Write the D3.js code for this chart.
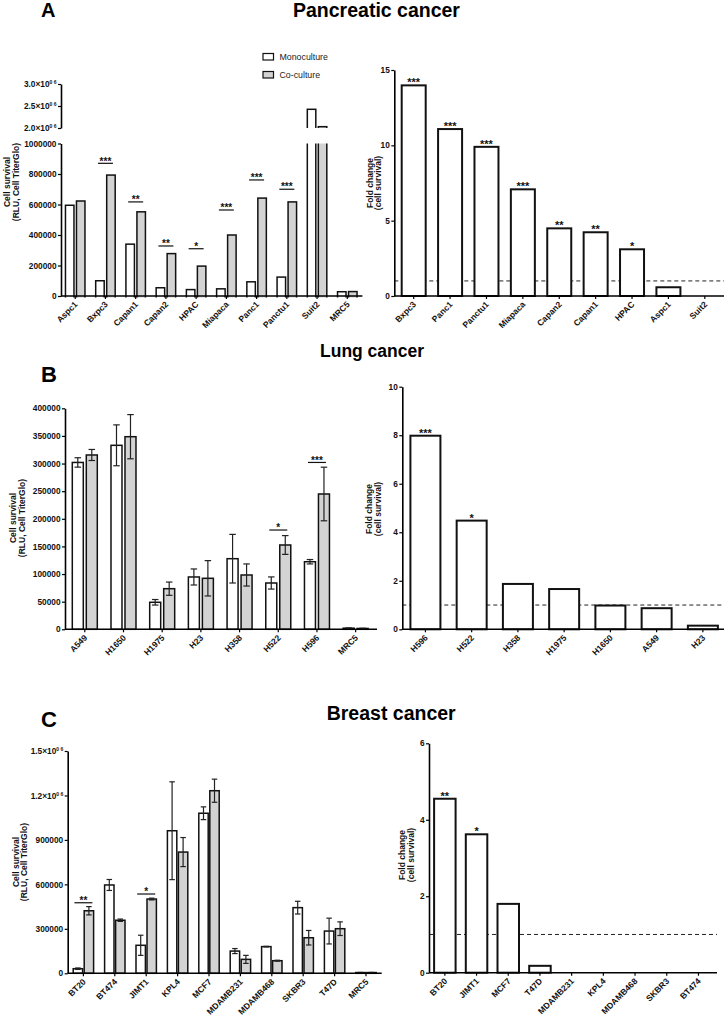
<!DOCTYPE html>
<html><head><meta charset="utf-8">
<script src="https://cdnjs.cloudflare.com/ajax/libs/d3/7.8.5/d3.min.js"></script>
<style>body{margin:0;background:#fff}svg{display:block}text{font-family:"Liberation Sans",Arial,sans-serif}</style>
</head><body><svg id="c" width="724" height="1020"></svg>
<script>
// ---------------- DATA ----------------
// Panel A: pancreatic cancer
const pancCats = ["Aspc1","Bxpc3","Capan1","Capan2","HPAC","Miapaca","Panc1","Panctu1","Suit2","MRC5"];
const pancMono = [595000,100000,340000,54000,42000,47000,93000,124000,2425000,28000];
const pancCo   = [623000,793000,552000,278000,196000,400000,642000,617000,2030000,29000];
const pancSigCats   = ["Bxpc3","Capan1","Capan2","HPAC","Miapaca","Panc1","Panctu1"];
const pancSigVals   = [870000,617000,328000,310000,564000,761000,700000];
const pancSigLabels = ["***","**","**","*","***","***","***"];
const pancTicksLow  = [0,200000,400000,600000,800000,1000000];
const pancTicksHigh = [2000000,2500000,3000000];

const pancFoldCats = ["Bxpc3","Panc1","Panctu1","Miapaca","Capan2","Capan1","HPAC","Aspc1","Suit2"];
const pancFold     = [13.98,11.08,9.9,7.08,4.49,4.23,3.1,0.58,0];
const pancFoldSig  = ["***","***","***","***","**","**","*","",""];
const pancFoldTicks = [0,5,10,15];

// Panel B: lung cancer
const lungCats    = ["A549","H1650","H1975","H23","H358","H522","H596","MRC5"];
const lungMono    = [302000,333000,48900,94700,127800,83800,122300,2000];
const lungMonoErr = [8500,37000,5000,14500,44000,11000,4000,400];
const lungCo      = [315500,348600,73500,92300,98300,152600,244900,1500];
const lungCoErr   = [10000,40000,12000,32000,20000,17000,48500,400];
const lungSigCats   = ["H522","H596"];
const lungSigVals   = [179700,302000];
const lungSigLabels = ["*","***"];
const lungTicks = [0,50000,100000,150000,200000,250000,300000,350000,400000];

const lungFoldCats = ["H596","H522","H358","H1975","H1650","A549","H23"];
const lungFold     = [7.98,4.48,1.87,1.66,0.98,0.87,0.15];
const lungFoldSig  = ["***","*","","","","",""];
const lungFoldTicks = [0,2,4,6,8,10];

// Panel C: breast cancer
const breastCats    = ["BT20","BT474","JIMT1","KPL4","MCF7","MDAMB231","MDAMB468","SKBR3","T47D","MRC5"];
const breastMono    = [31000,596000,189000,962000,1080000,150000,180000,443000,285000,5000];
const breastMonoErr = [5000,37000,68000,330000,43000,17000,2000,43000,87000,1000];
const breastCo      = [422000,358000,501000,818000,1232000,94000,85000,240000,301000,5000];
const breastCoErr   = [28000,8000,6000,98000,78000,27000,3000,49000,46000,1000];
const breastSigCats   = ["BT20","JIMT1"];
const breastSigVals   = [476000,535000];
const breastSigLabels = ["**","*"];
const breastTicks = [0,300000,600000,900000,1200000,1500000];

const breastFoldCats = ["BT20","JIMT1","MCF7","T47D","MDAMB231","KPL4","MDAMB468","SKBR3","BT474"];
const breastFold     = [4.55,3.62,1.80,0.18,0,0,0,0,0];
const breastFoldSig  = ["**","*","","","","","","",""];
const breastFoldTicks = [0,2,4,6];

const legendLabels = ["Monoculture","Co-culture"];

// ---------------- DRAWING ----------------
const svg = d3.select("#c");
const CO_FILL = "#d3d3d3";
const MONO_FILL = "#ffffff";

function styleAxis(g, fs) {
  g.select(".domain").attr("stroke","#000").attr("stroke-width",1.6);
  g.selectAll(".tick line").attr("stroke","#000").attr("stroke-width",1.2);
  g.selectAll(".tick text").attr("font-size",fs).attr("font-weight","bold").attr("fill","#111")
    .attr("font-family",'"Liberation Sans", Arial, sans-serif');
}
function sci(textSel, d) {
  const m = (d/1e6).toFixed(1);
  textSel.text(null);
  textSel.append("tspan").text(m + "\u00d710");
  textSel.append("tspan").attr("font-size",5).attr("dy",-3).text("0 6");
}
function yAxis(x0, scale, ticks, sciFrom) {
  const g = svg.append("g").attr("transform",`translate(${x0},0)`);
  g.call(d3.axisLeft(scale).tickValues(ticks).tickSize(3).tickSizeOuter(0).tickPadding(1.5)
     .tickFormat(d => String(d)));
  styleAxis(g, 8.3);
  if (sciFrom !== undefined) {
    g.selectAll(".tick text").each(function(d){ if (d >= sciFrom) sci(d3.select(this), d); });
  }
  return g;
}
function xAxis(y0, band, x0, x1, fs) {
  const g = svg.append("g").attr("transform",`translate(0,${y0})`);
  g.call(d3.axisBottom(band).tickSize(3).tickSizeOuter(0));
  g.select(".domain").attr("d", `M${x0},0H${x1}`);
  styleAxis(g, fs);
  g.selectAll(".tick text").attr("x",0).attr("y",0).attr("dy",null)
    .attr("text-anchor","end").attr("transform","translate(3,9) rotate(-45)");
  return g;
}
function axisTitle(xBase1, xBase2, cy, l1, l2) {
  [[xBase1,l1],[xBase2,l2]].forEach(([xb,t]) => {
    svg.append("text").attr("transform",`translate(${xb},${cy}) rotate(-90)`)
      .attr("text-anchor","middle").attr("font-size",8.5).attr("font-weight","bold").attr("fill","#111").text(t);
  });
}
function groupedBarsClamp(g, cats, vals, x, y, off, w, fill) {
  g.append("g").selectAll("rect").data(cats).join("rect")
    .attr("x", d => x(d) + x.bandwidth()/2 + off)
    .attr("width", w)
    .attr("y", (d,i) => y(vals[i]))
    .attr("height", (d,i) => y(0) - y(vals[i]))
    .attr("fill", fill).attr("stroke","#111").attr("stroke-width",1.5);
}
function errorBars(g, cats, vals, errs, x, y, off, cap) {
  const gg = g.append("g").attr("stroke","#222").attr("stroke-width",1.2);
  cats.forEach((c,i) => {
    const cx = x(c) + x.bandwidth()/2 + off;
    const y1 = y(vals[i] + errs[i]), y2 = y(Math.max(0, vals[i] - errs[i]));
    gg.append("line").attr("x1",cx).attr("x2",cx).attr("y1",y1).attr("y2",y2);
    gg.append("line").attr("x1",cx-cap/2).attr("x2",cx+cap/2).attr("y1",y1).attr("y2",y1);
    gg.append("line").attr("x1",cx-cap/2).attr("x2",cx+cap/2).attr("y1",y2).attr("y2",y2);
  });
}
function brackets(g, cats, vals, labels, x, y, half) {
  cats.forEach((c,i) => {
    const cx = x(c) + x.bandwidth()/2, yy = y(vals[i]);
    g.append("line").attr("x1",cx-half).attr("x2",cx+half).attr("y1",yy).attr("y2",yy)
      .attr("stroke","#111").attr("stroke-width",1.2);
    g.append("text").attr("x",cx).attr("y",yy+1.2).attr("text-anchor","middle")
      .attr("font-size",10).attr("font-weight","bold").attr("fill","#111").text(labels[i]);
  });
}
function foldPanel(o) {
  const g = svg.append("g");
  const x = d3.scaleBand().domain(o.cats).range(o.xr);
  const y = d3.scaleLinear().domain(o.yd).range(o.yr);
  g.append("line").attr("x1",o.ax).attr("x2",o.xEnd).attr("y1",y(1)).attr("y2",y(1))
    .attr("stroke","#222").attr("stroke-width",1).attr("stroke-dasharray","4,3");
  g.selectAll("rect.fb").data(o.cats).join("rect").attr("class","fb")
    .attr("x", d => x(d) + (x.bandwidth()-o.bw)/2).attr("width", o.bw)
    .attr("y", (d,i) => y(o.vals[i])).attr("height", (d,i) => y(0) - y(o.vals[i]))
    .attr("fill","#fff").attr("stroke","#111").attr("stroke-width",2);
  g.selectAll("text.sig").data(o.cats).join("text").attr("class","sig")
    .attr("x", d => x(d) + x.bandwidth()/2).attr("y", (d,i) => y(o.vals[i]) + 1)
    .attr("text-anchor","middle").attr("font-size",11).attr("font-weight","bold").attr("fill","#111")
    .text((d,i) => o.sig[i]);
  yAxis(o.ax, y, o.ticks);
  xAxis(o.yr[0], x, o.ax, o.xEnd, 8.5);
}
function title(x, yb, fs, t) {
  svg.append("text").attr("x",x).attr("y",yb).attr("font-size",fs).attr("font-weight","bold").attr("fill","#000").text(t);
}

// ---------- Titles ----------
title(41, 17.3, 20, "A");
title(293, 17.3, 19.5, "Pancreatic cancer");
title(41, 381.7, 22, "B");
title(320, 357.3, 17.5, "Lung cancer");
title(41, 726.7, 22, "C");
title(326.7, 720, 19.5, "Breast cancer");

// ---------- Panel A left (broken axis) ----------
{
  const g = svg.append("g");
  const defs = svg.append("defs");
  defs.append("clipPath").attr("id","clipLow").append("rect").attr("x",0).attr("y",143.5).attr("width",400).attr("height",154);
  defs.append("clipPath").attr("id","clipHigh").append("rect").attr("x",0).attr("y",80).attr("width",400).attr("height",48);
  const x = d3.scaleBand().domain(pancCats).range([60.1, 362.4]);
  const yLow = d3.scaleLinear().domain([0,1000000]).range([296,143.5]);
  const yHigh = d3.scaleLinear().domain([2000000,3000000]).range([128,84]);
  [["clipLow",yLow],["clipHigh",yHigh]].forEach(([cid, y]) => {
    const gg = g.append("g").attr("clip-path",`url(#${cid})`);
    gg.selectAll("rect.m").data(pancCats).join("rect").attr("class","m")
      .attr("x", d => x(d) + x.bandwidth()/2 - 9.75).attr("width",8.5)
      .attr("y", (d,i) => y(pancMono[i])).attr("height", (d,i) => Math.max(0, yLow(0) + 400 - y(pancMono[i])))
      .attr("fill",MONO_FILL).attr("stroke","#111").attr("stroke-width",1.5);
    gg.selectAll("rect.c").data(pancCats).join("rect").attr("class","c")
      .attr("x", d => x(d) + x.bandwidth()/2 + 1.25).attr("width",8.5)
      .attr("y", (d,i) => y(pancCo[i])).attr("height", (d,i) => Math.max(0, yLow(0) + 400 - y(pancCo[i])))
      .attr("fill",CO_FILL).attr("stroke","#111").attr("stroke-width",1.5);
  });
  brackets(g, pancSigCats, pancSigVals, pancSigLabels, x, yLow, 7.5);
  yAxis(61, yLow, pancTicksLow);
  yAxis(61, yHigh, pancTicksHigh, 2000000);
  xAxis(296, x, 61, 362.4, 8.5);
  axisTitle(9.5, 18.5, 182, "Cell survival", "(RLU, Cell TiterGlo)");
  const lg = svg.append("g");
  legendLabels.forEach((t,i) => {
    lg.append("rect").attr("x",263).attr("y",53.5 + i*18).attr("width",10.5).attr("height",6.5)
      .attr("fill", i ? CO_FILL : MONO_FILL).attr("stroke","#111").attr("stroke-width",1.2);
    lg.append("text").attr("x",279.5).attr("y",60 + i*18).attr("font-size",8.8).attr("fill","#222").text(t);
  });
}

// ---------- Panel A right ----------
foldPanel({cats:pancFoldCats, vals:pancFold, sig:pancFoldSig, xr:[395.5,723], yd:[0,15], yr:[296,70],
  ticks:pancFoldTicks, ax:394.3, xEnd:724, bw:24});
axisTitle(372.5, 381, 183, "Fold change", "(cell survival)");

// ---------- Panel B left ----------
{
  const g = svg.append("g");
  const x = d3.scaleBand().domain(lungCats).range([65.45, 375]);
  const y = d3.scaleLinear().domain([0,400000]).range([629.3,408.3]);
  groupedBarsClamp(g, lungCats, lungMono, x, y, -12.5, 11, MONO_FILL);
  groupedBarsClamp(g, lungCats, lungCo, x, y, 1.5, 11, CO_FILL);
  errorBars(g, lungCats, lungMono, lungMonoErr, x, y, -7, 6.5);
  errorBars(g, lungCats, lungCo, lungCoErr, x, y, 7, 6.5);
  brackets(g, lungSigCats, lungSigVals, lungSigLabels, x, y, 9);
  yAxis(65, y, lungTicks);
  xAxis(629.3, x, 65, 377, 8.5);
  axisTitle(15.5, 25, 518, "Cell survival", "(RLU, Cell TiterGlo)");
}

// ---------- Panel B right ----------
foldPanel({cats:lungFoldCats, vals:lungFold, sig:lungFoldSig, xr:[402.3,726], yd:[0,10], yr:[629.3,386.7],
  ticks:lungFoldTicks, ax:402.3, xEnd:724, bw:30});
axisTitle(372, 380.5, 509, "Fold change", "(cell survival)");

// ---------- Panel C left ----------
{
  const g = svg.append("g");
  const x = d3.scaleBand().domain(breastCats).range([67.7, 381.7]);
  const y = d3.scaleLinear().domain([0,1500000]).range([973.3,751]);
  groupedBarsClamp(g, breastCats, breastMono, x, y, -10.2, 9.4, MONO_FILL);
  groupedBarsClamp(g, breastCats, breastCo, x, y, 0.8, 9.4, CO_FILL);
  errorBars(g, breastCats, breastMono, breastMonoErr, x, y, -5.5, 5.5);
  errorBars(g, breastCats, breastCo, breastCoErr, x, y, 5.5, 5.5);
  brackets(g, breastSigCats, breastSigVals, breastSigLabels, x, y, 9);
  yAxis(67.7, y, breastTicks, 1200000);
  xAxis(973.3, x, 67.7, 381.7, 8.5);
  axisTitle(18.5, 26.5, 862, "Cell survival", "(RLU, Cell TiterGlo)");
}

// ---------- Panel C right ----------
foldPanel({cats:breastFoldCats, vals:breastFold, sig:breastFoldSig, xr:[429,714.3], yd:[0,6], yr:[972.7,743.3],
  ticks:breastFoldTicks, ax:429, xEnd:717, bw:21.5});
axisTitle(405, 414, 855, "Fold change", "(cell survival)");
</script>
</body></html>
